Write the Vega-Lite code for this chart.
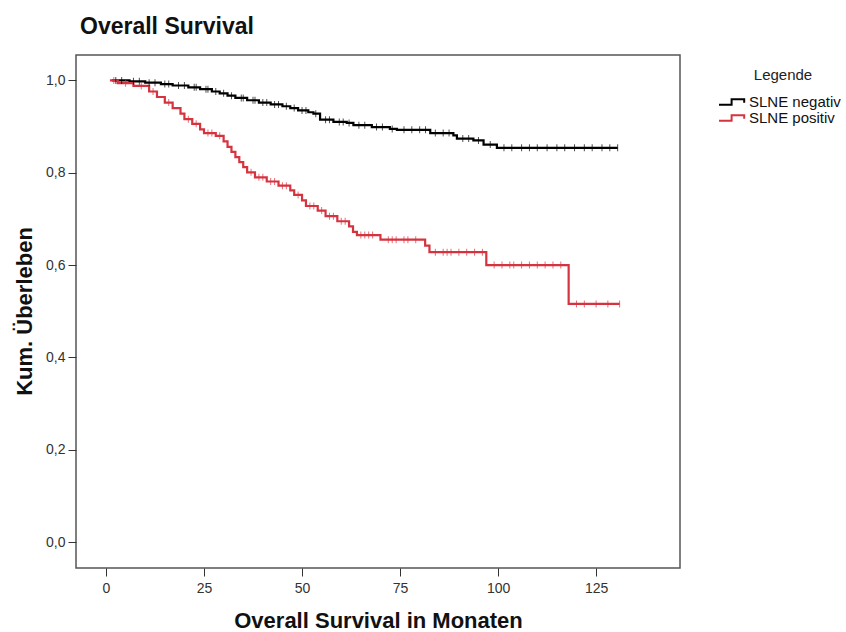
{
  "$schema": "https://vega.github.io/schema/vega-lite/v6.json",
  "width": 604,
  "height": 513,
  "autosize": {"type": "none"},
  "padding": {"left": 76, "top": 55, "right": 166, "bottom": 64},
  "background": "white",
  "config": {
    "font": "Liberation Sans",
    "view": {"stroke": "#555555", "strokeWidth": 1.5},
    "axis": {
      "grid": false,
      "domain": false,
      "tickColor": "#333333",
      "tickSize": 8,
      "labelColor": "#333333",
      "labelFontSize": 14,
      "titleFontSize": 22,
      "titleFontWeight": "bold",
      "titleColor": "#111111"
    }
  },
  "title": {
    "text": "Overall Survival",
    "anchor": "start",
    "frame": "group",
    "fontSize": 23,
    "fontWeight": "bold",
    "color": "#111111",
    "baseline": "alphabetic",
    "dx": 4,
    "offset": -2
  },
  "datasets": {
    "steps": [
      {"g": "SLNE negativ", "t": 1.5, "s": 1.000},
      {"g": "SLNE negativ", "t": 6, "s": 0.998},
      {"g": "SLNE negativ", "t": 10, "s": 0.995},
      {"g": "SLNE negativ", "t": 14, "s": 0.992},
      {"g": "SLNE negativ", "t": 17, "s": 0.989},
      {"g": "SLNE negativ", "t": 21, "s": 0.985},
      {"g": "SLNE negativ", "t": 24, "s": 0.981},
      {"g": "SLNE negativ", "t": 27, "s": 0.976},
      {"g": "SLNE negativ", "t": 29, "s": 0.972},
      {"g": "SLNE negativ", "t": 31, "s": 0.967},
      {"g": "SLNE negativ", "t": 33, "s": 0.962},
      {"g": "SLNE negativ", "t": 36, "s": 0.957},
      {"g": "SLNE negativ", "t": 39, "s": 0.952},
      {"g": "SLNE negativ", "t": 42, "s": 0.948},
      {"g": "SLNE negativ", "t": 45, "s": 0.944},
      {"g": "SLNE negativ", "t": 47, "s": 0.940},
      {"g": "SLNE negativ", "t": 49, "s": 0.935},
      {"g": "SLNE negativ", "t": 51.6, "s": 0.931},
      {"g": "SLNE negativ", "t": 52.9, "s": 0.928},
      {"g": "SLNE negativ", "t": 54.6, "s": 0.915},
      {"g": "SLNE negativ", "t": 58, "s": 0.910},
      {"g": "SLNE negativ", "t": 61.4, "s": 0.908},
      {"g": "SLNE negativ", "t": 63.1, "s": 0.903},
      {"g": "SLNE negativ", "t": 67.8, "s": 0.899},
      {"g": "SLNE negativ", "t": 72.4, "s": 0.895},
      {"g": "SLNE negativ", "t": 74.2, "s": 0.893},
      {"g": "SLNE negativ", "t": 82.7, "s": 0.886},
      {"g": "SLNE negativ", "t": 88.6, "s": 0.881},
      {"g": "SLNE negativ", "t": 89.5, "s": 0.874},
      {"g": "SLNE negativ", "t": 93.7, "s": 0.870},
      {"g": "SLNE negativ", "t": 96.3, "s": 0.861},
      {"g": "SLNE negativ", "t": 99.7, "s": 0.854},
      {"g": "SLNE negativ", "t": 130.5, "s": 0.854},
      {"g": "SLNE positiv", "t": 1, "s": 1.000},
      {"g": "SLNE positiv", "t": 3, "s": 0.994},
      {"g": "SLNE positiv", "t": 7, "s": 0.988},
      {"g": "SLNE positiv", "t": 11, "s": 0.976},
      {"g": "SLNE positiv", "t": 13, "s": 0.964},
      {"g": "SLNE positiv", "t": 15, "s": 0.952},
      {"g": "SLNE positiv", "t": 17, "s": 0.940},
      {"g": "SLNE positiv", "t": 19, "s": 0.928},
      {"g": "SLNE positiv", "t": 20, "s": 0.916},
      {"g": "SLNE positiv", "t": 22, "s": 0.906},
      {"g": "SLNE positiv", "t": 24, "s": 0.894},
      {"g": "SLNE positiv", "t": 25, "s": 0.886},
      {"g": "SLNE positiv", "t": 28, "s": 0.880},
      {"g": "SLNE positiv", "t": 30, "s": 0.868},
      {"g": "SLNE positiv", "t": 31, "s": 0.856},
      {"g": "SLNE positiv", "t": 32, "s": 0.845},
      {"g": "SLNE positiv", "t": 33, "s": 0.834},
      {"g": "SLNE positiv", "t": 34, "s": 0.823},
      {"g": "SLNE positiv", "t": 35, "s": 0.812},
      {"g": "SLNE positiv", "t": 36, "s": 0.801},
      {"g": "SLNE positiv", "t": 38, "s": 0.790},
      {"g": "SLNE positiv", "t": 41, "s": 0.781},
      {"g": "SLNE positiv", "t": 44, "s": 0.772},
      {"g": "SLNE positiv", "t": 47, "s": 0.762},
      {"g": "SLNE positiv", "t": 48, "s": 0.752},
      {"g": "SLNE positiv", "t": 50, "s": 0.740},
      {"g": "SLNE positiv", "t": 51, "s": 0.728},
      {"g": "SLNE positiv", "t": 54, "s": 0.718},
      {"g": "SLNE positiv", "t": 56, "s": 0.706},
      {"g": "SLNE positiv", "t": 59, "s": 0.695},
      {"g": "SLNE positiv", "t": 62, "s": 0.684},
      {"g": "SLNE positiv", "t": 63, "s": 0.672},
      {"g": "SLNE positiv", "t": 64, "s": 0.665},
      {"g": "SLNE positiv", "t": 70, "s": 0.655},
      {"g": "SLNE positiv", "t": 81.4, "s": 0.642},
      {"g": "SLNE positiv", "t": 82.5, "s": 0.628},
      {"g": "SLNE positiv", "t": 97, "s": 0.600},
      {"g": "SLNE positiv", "t": 118, "s": 0.516},
      {"g": "SLNE positiv", "t": 131, "s": 0.516}
    ],
    "censor": [
      {"g": "SLNE negativ", "t": 2.5, "s": 1.000},
      {"g": "SLNE negativ", "t": 4, "s": 1.000},
      {"g": "SLNE negativ", "t": 7, "s": 0.998},
      {"g": "SLNE negativ", "t": 8.5, "s": 0.998},
      {"g": "SLNE negativ", "t": 11, "s": 0.995},
      {"g": "SLNE negativ", "t": 12.5, "s": 0.995},
      {"g": "SLNE negativ", "t": 15, "s": 0.992},
      {"g": "SLNE negativ", "t": 16, "s": 0.992},
      {"g": "SLNE negativ", "t": 18.5, "s": 0.989},
      {"g": "SLNE negativ", "t": 20, "s": 0.989},
      {"g": "SLNE negativ", "t": 22.5, "s": 0.985},
      {"g": "SLNE negativ", "t": 23, "s": 0.985},
      {"g": "SLNE negativ", "t": 25.5, "s": 0.981},
      {"g": "SLNE negativ", "t": 26, "s": 0.981},
      {"g": "SLNE negativ", "t": 28, "s": 0.976},
      {"g": "SLNE negativ", "t": 30, "s": 0.972},
      {"g": "SLNE negativ", "t": 32, "s": 0.967},
      {"g": "SLNE negativ", "t": 34.5, "s": 0.962},
      {"g": "SLNE negativ", "t": 35, "s": 0.962},
      {"g": "SLNE negativ", "t": 37.5, "s": 0.957},
      {"g": "SLNE negativ", "t": 38, "s": 0.957},
      {"g": "SLNE negativ", "t": 40, "s": 0.952},
      {"g": "SLNE negativ", "t": 41, "s": 0.952},
      {"g": "SLNE negativ", "t": 43, "s": 0.948},
      {"g": "SLNE negativ", "t": 44, "s": 0.948},
      {"g": "SLNE negativ", "t": 46, "s": 0.944},
      {"g": "SLNE negativ", "t": 48, "s": 0.940},
      {"g": "SLNE negativ", "t": 50, "s": 0.935},
      {"g": "SLNE negativ", "t": 51, "s": 0.935},
      {"g": "SLNE negativ", "t": 53.5, "s": 0.928},
      {"g": "SLNE negativ", "t": 56, "s": 0.915},
      {"g": "SLNE negativ", "t": 57, "s": 0.915},
      {"g": "SLNE negativ", "t": 59.5, "s": 0.910},
      {"g": "SLNE negativ", "t": 60.5, "s": 0.910},
      {"g": "SLNE negativ", "t": 62, "s": 0.908},
      {"g": "SLNE negativ", "t": 64.5, "s": 0.903},
      {"g": "SLNE negativ", "t": 66, "s": 0.903},
      {"g": "SLNE negativ", "t": 69, "s": 0.899},
      {"g": "SLNE negativ", "t": 70.5, "s": 0.899},
      {"g": "SLNE negativ", "t": 73, "s": 0.895},
      {"g": "SLNE negativ", "t": 76, "s": 0.893},
      {"g": "SLNE negativ", "t": 78, "s": 0.893},
      {"g": "SLNE negativ", "t": 80, "s": 0.893},
      {"g": "SLNE negativ", "t": 81.5, "s": 0.893},
      {"g": "SLNE negativ", "t": 84, "s": 0.886},
      {"g": "SLNE negativ", "t": 86, "s": 0.886},
      {"g": "SLNE negativ", "t": 87.5, "s": 0.886},
      {"g": "SLNE negativ", "t": 91, "s": 0.874},
      {"g": "SLNE negativ", "t": 92.5, "s": 0.874},
      {"g": "SLNE negativ", "t": 95, "s": 0.870},
      {"g": "SLNE negativ", "t": 98, "s": 0.861},
      {"g": "SLNE negativ", "t": 101.5, "s": 0.854},
      {"g": "SLNE negativ", "t": 103.5, "s": 0.854},
      {"g": "SLNE negativ", "t": 106, "s": 0.854},
      {"g": "SLNE negativ", "t": 108, "s": 0.854},
      {"g": "SLNE negativ", "t": 110, "s": 0.854},
      {"g": "SLNE negativ", "t": 112.5, "s": 0.854},
      {"g": "SLNE negativ", "t": 115, "s": 0.854},
      {"g": "SLNE negativ", "t": 117, "s": 0.854},
      {"g": "SLNE negativ", "t": 119.5, "s": 0.854},
      {"g": "SLNE negativ", "t": 122, "s": 0.854},
      {"g": "SLNE negativ", "t": 124, "s": 0.854},
      {"g": "SLNE negativ", "t": 126.5, "s": 0.854},
      {"g": "SLNE negativ", "t": 128.5, "s": 0.854},
      {"g": "SLNE negativ", "t": 130.5, "s": 0.854},
      {"g": "SLNE positiv", "t": 2, "s": 1.000},
      {"g": "SLNE positiv", "t": 5, "s": 0.994},
      {"g": "SLNE positiv", "t": 9, "s": 0.988},
      {"g": "SLNE positiv", "t": 12, "s": 0.976},
      {"g": "SLNE positiv", "t": 16, "s": 0.952},
      {"g": "SLNE positiv", "t": 21, "s": 0.916},
      {"g": "SLNE positiv", "t": 23, "s": 0.906},
      {"g": "SLNE positiv", "t": 26, "s": 0.886},
      {"g": "SLNE positiv", "t": 27, "s": 0.886},
      {"g": "SLNE positiv", "t": 29, "s": 0.880},
      {"g": "SLNE positiv", "t": 37, "s": 0.801},
      {"g": "SLNE positiv", "t": 39, "s": 0.790},
      {"g": "SLNE positiv", "t": 40, "s": 0.790},
      {"g": "SLNE positiv", "t": 42, "s": 0.781},
      {"g": "SLNE positiv", "t": 43, "s": 0.781},
      {"g": "SLNE positiv", "t": 45, "s": 0.772},
      {"g": "SLNE positiv", "t": 46, "s": 0.772},
      {"g": "SLNE positiv", "t": 49, "s": 0.752},
      {"g": "SLNE positiv", "t": 52, "s": 0.728},
      {"g": "SLNE positiv", "t": 53, "s": 0.728},
      {"g": "SLNE positiv", "t": 55, "s": 0.718},
      {"g": "SLNE positiv", "t": 57, "s": 0.706},
      {"g": "SLNE positiv", "t": 58, "s": 0.706},
      {"g": "SLNE positiv", "t": 60, "s": 0.695},
      {"g": "SLNE positiv", "t": 61, "s": 0.695},
      {"g": "SLNE positiv", "t": 65, "s": 0.665},
      {"g": "SLNE positiv", "t": 66, "s": 0.665},
      {"g": "SLNE positiv", "t": 67, "s": 0.665},
      {"g": "SLNE positiv", "t": 68, "s": 0.665},
      {"g": "SLNE positiv", "t": 72, "s": 0.655},
      {"g": "SLNE positiv", "t": 73, "s": 0.655},
      {"g": "SLNE positiv", "t": 74, "s": 0.655},
      {"g": "SLNE positiv", "t": 76, "s": 0.655},
      {"g": "SLNE positiv", "t": 77, "s": 0.655},
      {"g": "SLNE positiv", "t": 79, "s": 0.655},
      {"g": "SLNE positiv", "t": 84, "s": 0.628},
      {"g": "SLNE positiv", "t": 86, "s": 0.628},
      {"g": "SLNE positiv", "t": 87, "s": 0.628},
      {"g": "SLNE positiv", "t": 88, "s": 0.628},
      {"g": "SLNE positiv", "t": 90, "s": 0.628},
      {"g": "SLNE positiv", "t": 92, "s": 0.628},
      {"g": "SLNE positiv", "t": 94, "s": 0.628},
      {"g": "SLNE positiv", "t": 96, "s": 0.628},
      {"g": "SLNE positiv", "t": 99, "s": 0.600},
      {"g": "SLNE positiv", "t": 101, "s": 0.600},
      {"g": "SLNE positiv", "t": 103, "s": 0.600},
      {"g": "SLNE positiv", "t": 104, "s": 0.600},
      {"g": "SLNE positiv", "t": 106, "s": 0.600},
      {"g": "SLNE positiv", "t": 108, "s": 0.600},
      {"g": "SLNE positiv", "t": 110, "s": 0.600},
      {"g": "SLNE positiv", "t": 112, "s": 0.600},
      {"g": "SLNE positiv", "t": 114, "s": 0.600},
      {"g": "SLNE positiv", "t": 116, "s": 0.600},
      {"g": "SLNE positiv", "t": 120, "s": 0.516},
      {"g": "SLNE positiv", "t": 122, "s": 0.516},
      {"g": "SLNE positiv", "t": 125, "s": 0.516},
      {"g": "SLNE positiv", "t": 128, "s": 0.516},
      {"g": "SLNE positiv", "t": 131, "s": 0.516}
    ]
  },
  "encoding": {
    "x": {
      "field": "t",
      "type": "quantitative",
      "scale": {"domain": [-7.65, 146.4], "nice": false, "zero": false},
      "axis": {
        "title": "Overall Survival in Monaten",
        "values": [0, 25, 50, 75, 100, 125],
        "labelPadding": 5,
        "titleBaseline": "alphabetic",
        "titleX": 302,
        "titleY": 59
      }
    },
    "y": {
      "field": "s",
      "type": "quantitative",
      "scale": {"domain": [-0.056, 1.055], "nice": false, "zero": false},
      "axis": {
        "title": "Kum. Überleben",
        "values": [0, 0.2, 0.4, 0.6, 0.8, 1],
        "labelExpr": "replace(format(datum.value, '.1f'), '.', ',')",
        "labelPadding": 3,
        "titleAngle": -90,
        "titleAlign": "center",
        "titleBaseline": "middle",
        "titleX": -52,
        "titleY": 256
      }
    },
    "color": {
      "field": "g",
      "type": "nominal",
      "scale": {"domain": ["SLNE negativ", "SLNE positiv"], "range": ["#000000", "#d5333f"]},
      "legend": {
        "title": "Legende",
        "orient": "none",
        "legendX": 649,
        "legendY": 13,
        "titleFontSize": 15,
        "titleFontWeight": "normal",
        "titleColor": "#222222",
        "titleAnchor": "middle",
        "titlePadding": 11,
        "labelFontSize": 15,
        "labelColor": "#111111",
        "labelOffset": 8,
        "symbolType": "M-2,0.4H-0.2V-0.4H1.6V0.1",
        "symbolSize": 196,
        "symbolStrokeWidth": 2,
        "rowPadding": 0,
        "encode": {"symbols": {"update": {"fill": {"value": "transparent"}, "fillOpacity": {"value": 0}}}}
      }
    }
  },
  "layer": [
    {
      "data": {"name": "steps"},
      "mark": {"type": "line", "interpolate": "step-after", "strokeWidth": 2.2}
    },
    {
      "data": {"name": "censor"},
      "mark": {"type": "tick", "orient": "vertical", "size": 7, "thickness": 1}
    }
  ]
}
